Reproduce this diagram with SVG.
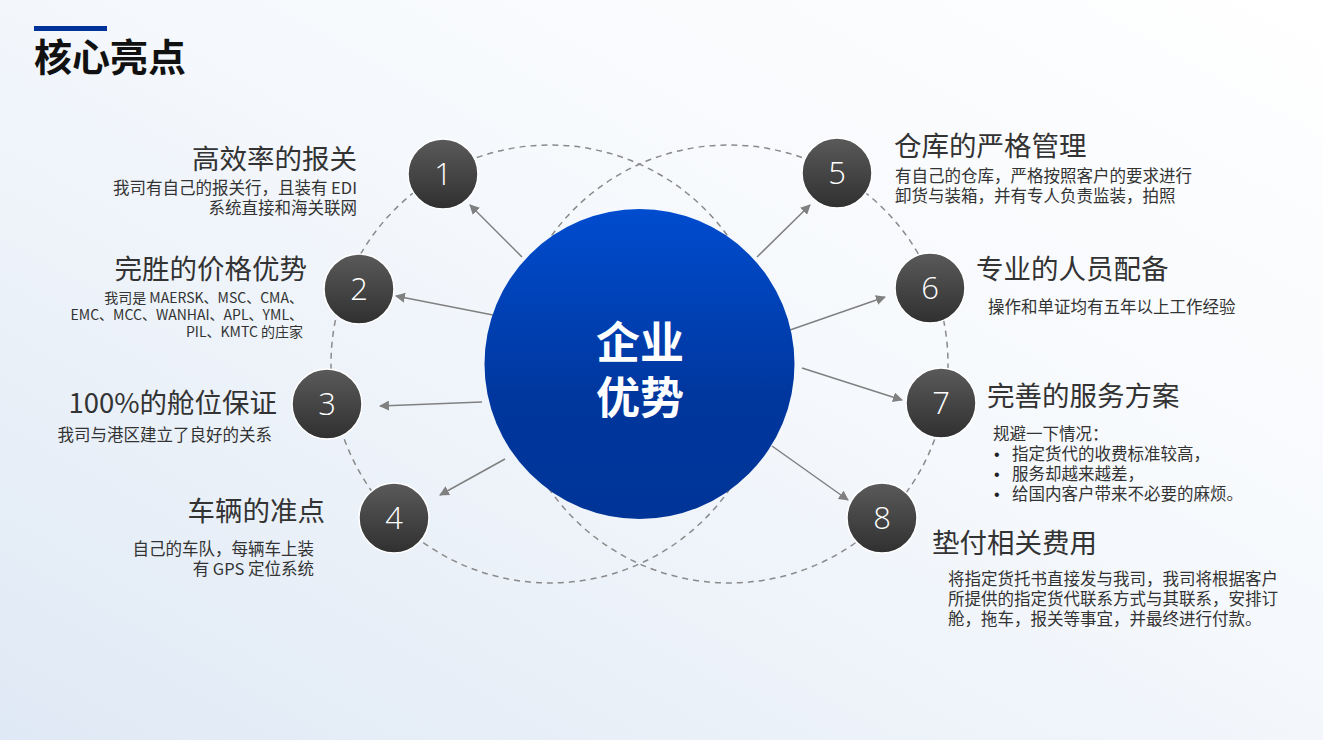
<svg xmlns="http://www.w3.org/2000/svg" width="1323" height="740" viewBox="0 0 1323 740">
<defs>
<linearGradient id="bg" x1="0" y1="1" x2="1" y2="0">
<stop offset="0" stop-color="#dfe9f5"/>
<stop offset="0.55" stop-color="#f5f8fc"/>
<stop offset="1" stop-color="#ffffff"/>
</linearGradient>
<linearGradient id="core" x1="0" y1="0" x2="0" y2="1">
<stop offset="0" stop-color="#004ccf"/>
<stop offset="0.6" stop-color="#00379e"/>
<stop offset="1" stop-color="#003497"/>
</linearGradient>
<linearGradient id="ball" x1="0" y1="0" x2="0" y2="1">
<stop offset="0" stop-color="#5a5a5a"/>
<stop offset="1" stop-color="#303030"/>
</linearGradient>
<marker id="arr" viewBox="0 0 10 10" refX="9" refY="5" markerWidth="10" markerHeight="10" markerUnits="userSpaceOnUse" orient="auto">
<path d="M0,0 L10,5 L0,10 Z" fill="#808080"/>
</marker>
<style>
.ring{fill:none;stroke:#8a8a8a;stroke-width:1.5;stroke-dasharray:6 5}
.link{stroke:#808080;stroke-width:1.5;fill:none;marker-end:url(#arr)}
.ball{fill:url(#ball);stroke:#ffffff;stroke-width:1.5}
.num{font-family:"Open Sans","Liberation Sans",sans-serif;font-weight:300;font-size:31px;fill:#ffffff;text-anchor:middle}
.h{font-family:"Noto Sans CJK SC",sans-serif;font-size:27.5px;fill:#333333}
.s{font-family:"Noto Sans CJK SC",sans-serif;font-size:16.5px;fill:#333333}
.b{font-family:"Liberation Sans",sans-serif;font-size:16px;fill:#222222}
.xs{font-family:"Noto Sans CJK SC",sans-serif;font-size:14px;fill:#333333}
.r{text-anchor:end}
.core{font-family:"Noto Sans CJK SC",sans-serif;font-weight:700;font-size:44px;fill:#ffffff;text-anchor:middle}
</style>
</defs>
<rect x="0" y="0" width="1323" height="740" fill="url(#bg)"/>
<g id="title">
<rect x="34" y="26" width="73" height="5" fill="#003399"/>
<text x="34" y="71" font-family="Noto Sans CJK SC, sans-serif" font-weight="700" font-size="38" fill="#111111">核心亮点</text>
</g>
<g id="rings">
<circle class="ring" cx="550" cy="364" r="219"/>
<circle class="ring" cx="729" cy="364" r="219"/>
</g>
<g id="connectors">
<line class="link" x1="522" y1="257" x2="470" y2="205"/>
<line class="link" x1="493" y1="315" x2="396" y2="296"/>
<line class="link" x1="482" y1="402" x2="380" y2="406"/>
<line class="link" x1="505" y1="459" x2="440" y2="495"/>
<line class="link" x1="757" y1="257" x2="810" y2="205"/>
<line class="link" x1="790" y1="330" x2="885" y2="297"/>
<line class="link" x1="802" y1="368" x2="902" y2="400"/>
<line class="link" x1="772" y1="446" x2="848" y2="500"/>
</g>
<g id="core">
<circle cx="639.5" cy="364" r="155" fill="url(#core)"/>
<text class="core" x="640" y="359">企业</text>
<text class="core" x="640" y="414">优势</text>
</g>
<g id="node1">
<circle class="ball" cx="443" cy="174" r="35"/>
<text class="num" x="443" y="185">1</text>
<text class="h r" x="357" y="169">高效率的报关</text>
<text class="s r" x="357" y="194">我司有自己的报关行，且装有 EDI</text>
<text class="s r" x="357" y="214">系统直接和海关联网</text>
</g>
<g id="node2">
<circle class="ball" cx="359" cy="289" r="35"/>
<text class="num" x="359" y="300">2</text>
<text class="h r" x="307" y="279">完胜的价格优势</text>
<text class="xs r" x="303" y="303">我司是 MAERSK、MSC、CMA、</text>
<text class="xs r" x="303" y="320">EMC、MCC、WANHAI、APL、YML、</text>
<text class="xs r" x="303" y="337">PIL、KMTC 的庄家</text>
</g>
<g id="node3">
<circle class="ball" cx="327" cy="404" r="35"/>
<text class="num" x="327" y="415">3</text>
<text class="h r" x="277" y="413">100%的舱位保证</text>
<text class="s r" x="272" y="441">我司与港区建立了良好的关系</text>
</g>
<g id="node4">
<circle class="ball" cx="394" cy="518" r="35"/>
<text class="num" x="394" y="529">4</text>
<text class="h r" x="325" y="521">车辆的准点</text>
<text class="s r" x="314" y="555">自己的车队，每辆车上装</text>
<text class="s r" x="314" y="575">有 GPS 定位系统</text>
</g>
<g id="node5">
<circle class="ball" cx="837" cy="173" r="35"/>
<text class="num" x="837" y="184">5</text>
<text class="h" x="894" y="156">仓库的严格管理</text>
<text class="s" x="895" y="182">有自己的仓库，严格按照客户的要求进行</text>
<text class="s" x="895" y="202">卸货与装箱，并有专人负责监装，拍照</text>
</g>
<g id="node6">
<circle class="ball" cx="930" cy="288" r="35"/>
<text class="num" x="930" y="299">6</text>
<text class="h" x="976" y="279">专业的人员配备</text>
<text class="s" x="988" y="313">操作和单证均有五年以上工作经验</text>
</g>
<g id="node7">
<circle class="ball" cx="941" cy="403" r="35"/>
<text class="num" x="941" y="414">7</text>
<text class="h" x="987" y="406">完善的服务方案</text>
<text class="s" x="993" y="440">规避一下情况：</text>
<text class="b" x="994" y="460">•</text>
<text class="s" x="1012" y="460">指定货代的收费标准较高，</text>
<text class="b" x="994" y="480">•</text>
<text class="s" x="1012" y="480">服务却越来越差，</text>
<text class="b" x="994" y="500">•</text>
<text class="s" x="1012" y="500">给国内客户带来不必要的麻烦。</text>
</g>
<g id="node8">
<circle class="ball" cx="882" cy="518" r="35"/>
<text class="num" x="882" y="529">8</text>
<text class="h" x="932" y="553">垫付相关费用</text>
<text class="s" x="948" y="585">将指定货托书直接发与我司，我司将根据客户</text>
<text class="s" x="948" y="605">所提供的指定货代联系方式与其联系，安排订</text>
<text class="s" x="948" y="625">舱，拖车，报关等事宜，并最终进行付款。</text>
</g>
</svg>
